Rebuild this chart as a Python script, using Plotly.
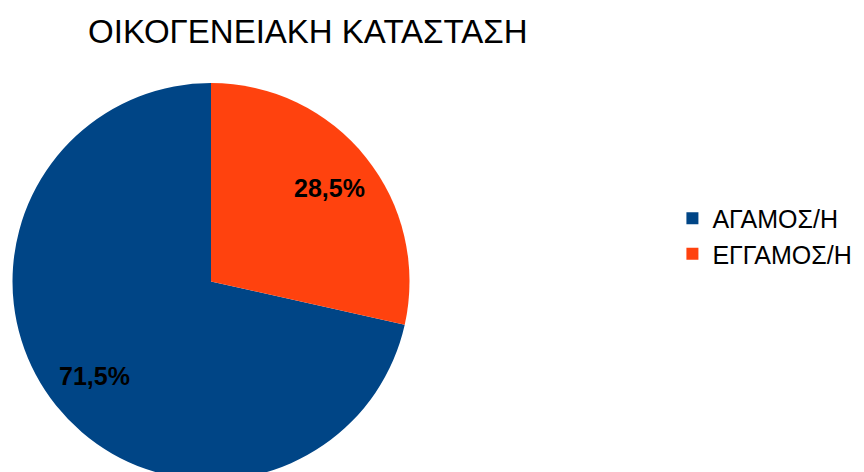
import math
import plotly.graph_objects as go

labels = ["ΑΓΑΜΟΣ/Η", "ΕΓΓΑΜΟΣ/Η"]
values = [71.5, 28.5]
text_labels = ["71,5%", "28,5%"]
colors = ["#004586", "#ff420e"]

W, H = 864, 472
T = 75
start_rot = 360 * values[1] / sum(values)  # orange slice ends at 12 o'clock

fig = go.Figure(go.Pie(
    labels=labels,
    values=values,
    textinfo="none",
    marker=dict(colors=colors, line=dict(width=0)),
    sort=False,
    direction="clockwise",
    rotation=start_rot,
    domain=dict(x=[0, 406 / W], y=[0, 1]),
    hoverinfo="label+percent",
))

# label positions derived from the slice angles (pie centre in paper pixels)
cx, cy, R = 204, 274, 200
total = sum(values)
acc = 0
annotations = []
for v, t in zip(values, text_labels):
    mid = start_rot + 360 * (acc + v / 2) / total
    acc += v
    a = math.radians(mid)
    px = cx + 0.755 * R * math.sin(a)
    py = cy - 0.755 * R * math.cos(a)
    annotations.append(dict(
        x=px / W, y=1 - (py - T) / (H - T), xref="paper", yref="paper",
        text=t, showarrow=False, xanchor="center", yanchor="middle",
        font=dict(family="Liberation Sans", size=25, color="black", weight="bold"),
    ))

fig.update_layout(
    width=W,
    height=H,
    margin=dict(l=0, r=0, t=T, b=0),
    paper_bgcolor="white",
    plot_bgcolor="white",
    font=dict(family="Liberation Sans", color="black"),
    title=dict(text="ΟΙΚΟΓΕΝΕΙΑΚΗ ΚΑΤΑΣΤΑΣΗ", x=0.347, xanchor="center",
               y=0.951, yanchor="middle", yref="container",
               font=dict(family="Liberation Sans", size=33, color="black")),
    legend=dict(x=0.769, xanchor="left", y=0.6146, yanchor="middle",
                font=dict(family="Liberation Sans", size=25, color="black"),
                itemwidth=30, tracegroupgap=0),
    annotations=annotations,
    showlegend=True,
)

fig.write_html("out.html")
